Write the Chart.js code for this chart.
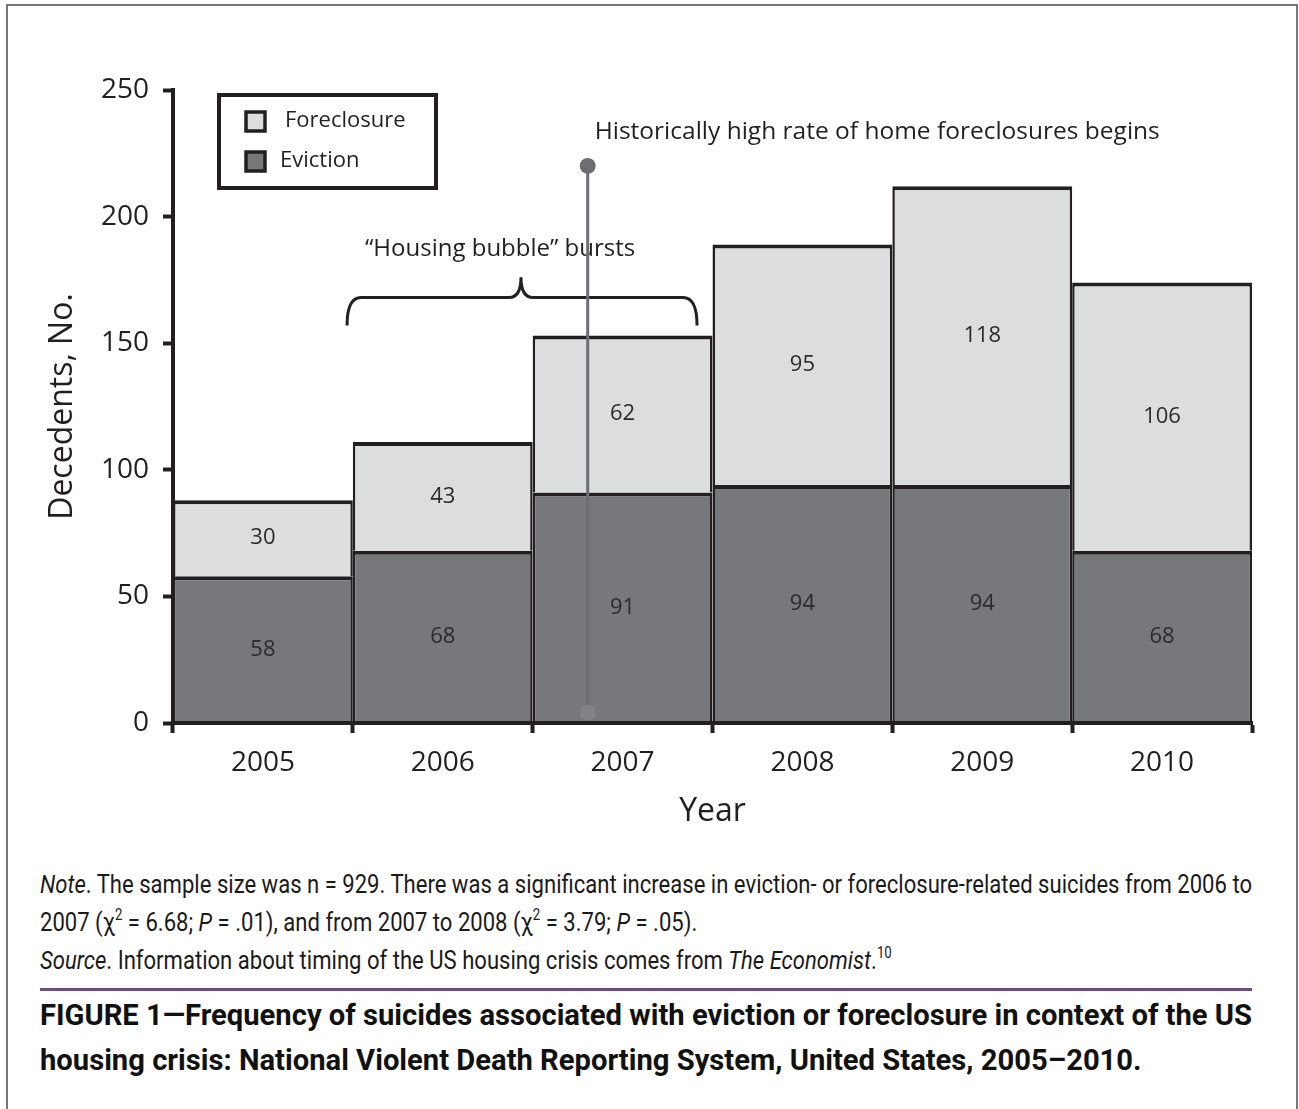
<!DOCTYPE html>
<html>
<head>
<meta charset="utf-8">
<script src="https://cdn.jsdelivr.net/npm/chart.js@4.4.1/dist/chart.umd.min.js"></script>
<style>
html,body{margin:0;padding:0;background:#fff;overflow:hidden;width:1299px;height:1109px;}
#frame{position:absolute;left:6px;top:4px;width:1292px;height:1200px;border:2px solid #777;box-sizing:border-box;}
#wrap{position:absolute;left:0;top:0;width:1299px;height:850px;}
.para{position:absolute;left:40px;white-space:nowrap;transform-origin:0 0;font-family:'Liberation Sans Narrow','Roboto','Liberation Sans',sans-serif;color:#1a1a1a;}
.para .ln{display:block;}
.para .ln span.m{display:inline-block;}
#note{top:865px;font-size:26px;line-height:38px;}
#caption{top:992px;font-size:30px;line-height:45px;font-weight:bold;color:#111;}
sup{font-size:0.6em;line-height:0;vertical-align:0.7em;}
#rule{position:absolute;left:40px;top:988px;width:1212px;height:3px;background:#6a4a87;}
</style>
</head>
<body>
<div id="frame"></div>
<div id="wrap"><canvas id="c" width="1299" height="850"></canvas></div>
<div id="note" class="para">
  <div class="ln"><span class="m" id="n1"><i>Note</i>. The sample size was n = 929. There was a significant increase in eviction- or foreclosure-related suicides from 2006 to</span></div>
  <div class="ln">2007 (χ<sup>2</sup> = 6.68; <i>P</i> = .01), and from 2007 to 2008 (χ<sup>2</sup> = 3.79; <i>P</i> = .05).</div>
  <div class="ln"><i>Source</i>. Information about timing of the US housing crisis comes from <i>The Economist</i>.<sup>10</sup></div>
</div>
<div id="rule"></div>
<div id="caption" class="para">
  <div class="ln"><span class="m" id="c1">FIGURE 1—Frequency of suicides associated with eviction or foreclosure in context of the US</span></div>
  <div class="ln">housing crisis: National Violent Death Reporting System, United States, 2005–2010.</div>
</div>
<script>
// ---- data ----
const years = ['2005', '2006', '2007', '2008', '2009', '2010'];
const eviction = [58, 68, 91, 94, 94, 68];
const foreclosure = [30, 43, 62, 95, 118, 106];
const yTicks = [0, 50, 100, 150, 200, 250];
// annotation anchors (category index, value)
const foreclosureLineX = [1.806];
const foreclosureLineY = [4, 220];
const foreclosureText = ['Historically high rate of home foreclosures begins'];
const foreclosureTextY = [233.5];
const braceX = [0.468, 1.435, 2.414];
const braceY = [157, 168, 176];
const bubbleText = ['\u201CHousing bubble\u201D bursts'];
const bubbleTextPos = [1.319, 187];

const INK = '#231f20';
const FONT = "'Open Sans', 'Noto Sans', sans-serif";

const annotations = {
  id: 'annotations',
  afterDraw(chart) {
    const c = chart.ctx;
    const xs = chart.scales.x, ys = chart.scales.y;
    c.save();
    // bar value labels
    c.font = '22px ' + FONT;
    c.fillStyle = '#2b2b2b';
    c.textAlign = 'center';
    c.textBaseline = 'middle';
    chart.data.datasets.forEach((ds, di) => {
      const meta = chart.getDatasetMeta(di);
      meta.data.forEach((el, i) => {
        const cy = (el.y + el.base) / 2;
        c.fillText(String(ds.data[i]), el.x, cy);
      });
    });
    // brace
    const bl = xs.getPixelForValue(braceX[0]), bm = xs.getPixelForValue(braceX[1]), br = xs.getPixelForValue(braceX[2]);
    const yEnd = ys.getPixelForValue(braceY[0]), yMid = ys.getPixelForValue(braceY[1]), yTip = ys.getPixelForValue(braceY[2]);
    c.strokeStyle = INK;
    c.lineWidth = 3;
    c.beginPath();
    c.moveTo(bl, yEnd);
    c.quadraticCurveTo(bl, yMid, bl + 14, yMid);
    c.lineTo(bm - 12, yMid);
    c.quadraticCurveTo(bm, yMid, bm, yTip);
    c.quadraticCurveTo(bm, yMid, bm + 12, yMid);
    c.lineTo(br - 14, yMid);
    c.quadraticCurveTo(br, yMid, br, yEnd);
    c.stroke();
    // texts
    c.fillStyle = INK;
    c.font = '24px ' + FONT;
    c.textAlign = 'center';
    c.fillText(bubbleText[0], xs.getPixelForValue(bubbleTextPos[0]), ys.getPixelForValue(bubbleTextPos[1]));
    const lx = xs.getPixelForValue(foreclosureLineX[0]);
    c.font = '24.5px ' + FONT;
    c.textAlign = 'left';
    c.fillText(foreclosureText[0], lx + 7, ys.getPixelForValue(foreclosureTextY[0]));
    // vertical line with end dots
    const yb = ys.getPixelForValue(foreclosureLineY[0]), yt = ys.getPixelForValue(foreclosureLineY[1]);
    c.strokeStyle = '#6d6e71';
    c.lineWidth = 3;
    c.beginPath();
    c.moveTo(lx, yt);
    c.lineTo(lx, yb);
    c.stroke();
    c.fillStyle = '#6d6e71';
    c.beginPath(); c.arc(lx, yt, 8, 0, Math.PI * 2); c.fill();
    c.fillStyle = '#818285';
    c.beginPath(); c.arc(lx, yb, 8, 0, Math.PI * 2); c.fill();
    // legend
    c.strokeStyle = INK;
    c.lineWidth = 4;
    c.strokeRect(219, 95, 217, 93);
    const items = [[chart.data.datasets[1], 121, 285], [chart.data.datasets[0], 161, 280]];
    items.forEach(([ds, cy, tx]) => {
      c.fillStyle = ds.backgroundColor;
      c.fillRect(246, cy - 9, 19, 19);
      c.lineWidth = 3.5;
      c.strokeStyle = INK;
      c.strokeRect(246, cy - 9, 19, 19);
      c.fillStyle = INK;
      c.font = '22px ' + FONT;
      c.textAlign = 'left';
      c.textBaseline = 'middle';
      c.fillText(ds.label, tx, cy);
    });
    c.restore();
  }
};

const bw = (ctx) => ({ top: 4, left: 2.5, right: 2.5, bottom: 0 });

new Chart(document.getElementById('c'), {
  type: 'bar',
  data: {
    labels: years,
    datasets: [
      { label: 'Eviction', data: eviction, backgroundColor: '#77787b', borderColor: INK, borderWidth: bw,
        barPercentage: 1, categoryPercentage: 1, inflateAmount: 0 },
      { label: 'Foreclosure', data: foreclosure, backgroundColor: '#dcdddf', borderColor: INK, borderWidth: bw,
        barPercentage: 1, categoryPercentage: 1, inflateAmount: 0 }
    ]
  },
  options: {
    responsive: false,
    animation: false,
    events: [],
    layout: { padding: { left: 0, right: 47, top: 90, bottom: 0 } },
    plugins: { legend: { display: false }, tooltip: { enabled: false } },
    scales: {
      x: {
        stacked: true,
        grid: { display: true, drawOnChartArea: false, drawTicks: true, tickLength: 10, tickWidth: 4, tickColor: INK, offset: true, z: 1 },
        border: { display: true, color: INK, width: 4, z: 1 },
        ticks: { color: INK, font: { family: FONT, size: 28 }, padding: 13 },
        title: { display: true, text: 'Year', color: INK, font: { family: FONT, size: 32 }, padding: { top: 0, bottom: 19 } },
        afterFit: (s) => { s.height = 127; }
      },
      y: {
        stacked: true,
        min: yTicks[0], max: yTicks[yTicks.length - 1],
        afterBuildTicks: (s) => { s.ticks = yTicks.map(v => ({ value: v })); },
        grid: { display: true, drawOnChartArea: false, drawTicks: true, tickLength: 10, tickWidth: 4, tickColor: INK, z: 1 },
        border: { display: true, color: INK, width: 4, z: 1 },
        ticks: { color: INK, font: { family: FONT, size: 28 }, padding: 14 },
        title: { display: true, text: 'Decedents, No.', color: INK, font: { family: FONT, size: 32 }, padding: { top: 44, bottom: 0 } },
        afterFit: (s) => { s.width = 173; }
      }
    }
  },
  plugins: [annotations]
});

// fit condensed text paragraphs to the reference width
function fit(paraId, lineId, target) {
  const p = document.getElementById(paraId);
  const w = document.getElementById(lineId).getBoundingClientRect().width;
  if (w > 0) p.style.transform = 'scaleX(' + (target / w) + ')';
}
fit('note', 'n1', 1212);
fit('caption', 'c1', 1212);
</script>
</body>
</html>
